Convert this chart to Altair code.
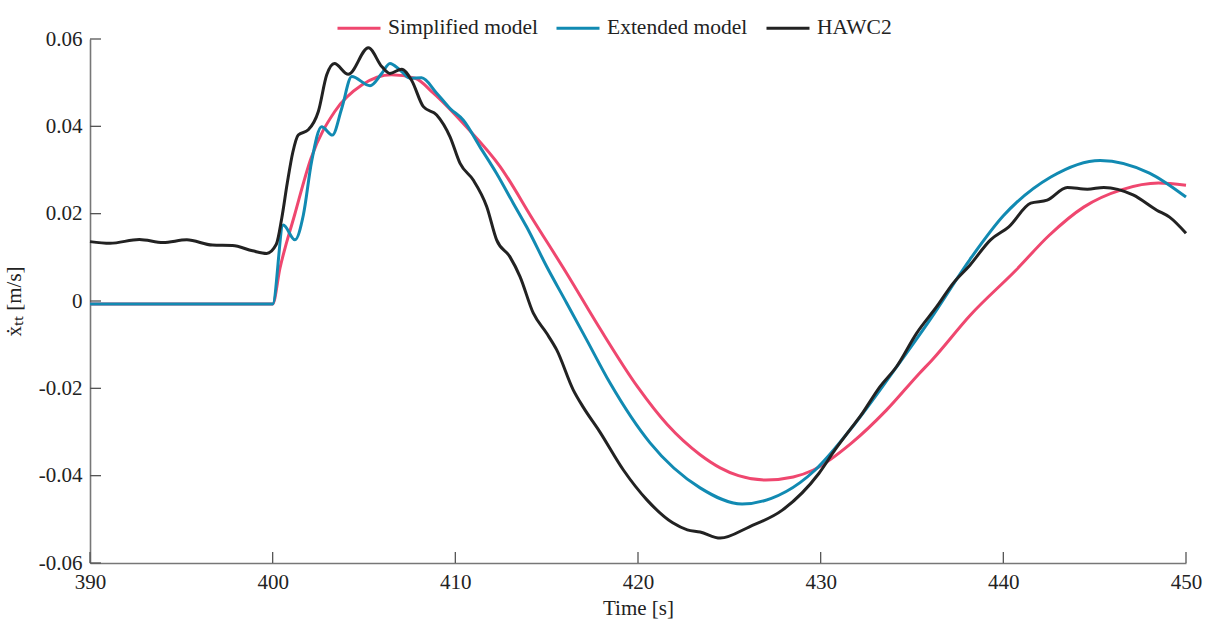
import altair as alt
import pandas as pd

# ---- data ----
simp_t = [390, 400.0, 400.4, 401.2, 402.1, 403.4, 404.9, 406.5, 407.8, 408.8, 410.6, 412.45,
          414.27, 416.1, 417.9, 420.0, 421.6, 423.4, 424.5, 425.5, 427.0, 428.5, 429.6, 431.7, 433.6, 435.4,
          436.1, 438.2, 440.7, 442.5, 444.4, 446.5, 448.5, 450]
simp_v = [-0.0007, -0.0007, 0.0075, 0.0197, 0.0327, 0.0434, 0.0495, 0.0518, 0.0510, 0.0476, 0.0399, 0.0308,
          0.0185, 0.0063, -0.0062, -0.0198, -0.0283, -0.0352, -0.0382, -0.0400, -0.0410, -0.0403, -0.0387, -0.0325, -0.0250, -0.0166,
          -0.0135, -0.0032, 0.0071, 0.0150, 0.0215, 0.0255, 0.0270, 0.0265]

ext_t = [390, 400.0, 400.58, 401.22, 401.68, 402.13, 402.68, 403.27, 403.78, 404.33, 405.33, 405.97,
         406.42, 406.97, 407.52, 408.15, 408.98, 409.71, 410.44, 411.35, 412.26, 413.17, 413.9, 415.0,
         416.1, 417.19, 418.47, 420.66, 423.4, 425.7, 427.3, 428.87, 429.7, 431.8, 434.0, 436.0, 438.17,
         440.0, 442.6, 445.3, 448.0, 450]
ext_v = [-0.0007, -0.0007, 0.0174, 0.0140, 0.0197, 0.0319, 0.0399, 0.0380, 0.0441, 0.0514, 0.0493, 0.0521,
         0.0544, 0.0529, 0.0510, 0.0511, 0.0476, 0.0441, 0.0414, 0.0353, 0.0292, 0.0224, 0.0170, 0.0079,
         -0.0005, -0.0089, -0.0188, -0.0325, -0.0428, -0.0465, -0.0452, -0.0416, -0.0387, -0.0285, -0.0160, -0.0042, 0.0095,
         0.0195, 0.0284, 0.0322, 0.0293, 0.0238]

hawc_t = [390, 391.1, 392.7, 394.0, 395.3, 396.7, 397.8, 398.9, 399.67, 400.2, 400.5, 400.8, 401.1,
          401.4, 401.95, 402.5, 402.96, 403.38, 404.14, 405.24, 405.97, 406.42, 407.06, 407.61, 408.25,
          408.98, 409.71, 410.26, 410.98, 411.72, 412.26, 412.99, 413.54, 414.27, 415.0, 415.55, 416.46,
          417.0, 417.9, 419.2, 420.5, 421.9, 422.7, 423.4, 424.5, 426.1, 427.9, 429.9, 430.8, 431.6,
          432.15, 433.25, 434.16, 435.25, 436.35, 437.26, 438.17, 439.3, 440.3, 441.5, 442.4, 443.5,
          444.6, 445.5, 447.1, 448.4, 449.1, 450]
hawc_v = [0.0136, 0.0132, 0.0141, 0.0134, 0.0140, 0.0128, 0.0127, 0.0115, 0.0109, 0.0130, 0.0190, 0.0270, 0.0340,
          0.0380, 0.0392, 0.0434, 0.0518, 0.0544, 0.0519, 0.0580, 0.0537, 0.0521, 0.0531, 0.0505, 0.0445,
          0.0426, 0.0376, 0.0315, 0.0277, 0.0216, 0.0140, 0.0101, 0.0056, -0.0028, -0.0074, -0.0112, -0.0204,
          -0.0243, -0.0299, -0.0387, -0.0456, -0.0508, -0.0524, -0.0529, -0.0543, -0.0517, -0.0479, -0.0395, -0.0340, -0.0295,
          -0.0265, -0.0196, -0.0150, -0.0074, -0.0013, 0.0041, 0.0082, 0.0140, 0.0170, 0.0224, 0.0231, 0.0260,
          0.0256, 0.0260, 0.0243, 0.0208, 0.0192, 0.0155]

series_names = ["Simplified model", "Extended model", "HAWC2"]
series_colors = ["#EF476F", "#118AB2", "#222222"]

x_ticks = [390, 400, 410, 420, 430, 440, 450]
y_ticks = [-0.06, -0.04, -0.02, 0.0, 0.02, 0.04, 0.06]

FONT = "Liberation Serif"
W, H = 1096, 524

def frame(t, v, name):
    return pd.DataFrame({"t": t, "v": v, "series": name})

xscale = alt.Scale(domain=[390, 450], nice=False, zero=False)
yscale = alt.Scale(domain=[-0.06, 0.06], nice=False, zero=False)
cscale = alt.Scale(domain=series_names, range=series_colors)

xaxis = alt.Axis(values=x_ticks, title="Time [s]", ticks=False, labelPadding=8,
                 titlePadding=5, format="d", labelFlush=False, grid=False)
yaxis = alt.Axis(values=y_ticks, title="ẋₜₜ [m/s]", ticks=False, labelPadding=8,
                 titlePadding=14, labelFlush=False, grid=False,
                 labelExpr="datum.value == 0 ? '0' : (datum.value < 0 ? '-' + format(-datum.value, '.2f') : format(datum.value, '.2f'))")

legend = alt.Legend(title=None, orient="none", direction="horizontal",
                    legendX=246, legendY=-34, columns=3,
                    symbolType="stroke", symbolSize=1849,
                    symbolStrokeWidth=3, labelFont=FONT,
                    labelFontSize=21.5, labelColor="#222",
                    labelOffset=6, columnPadding=12, padding=0)

def line(df):
    return alt.Chart(df).mark_line(strokeWidth=3, interpolate="monotone").encode(
        x=alt.X("t:Q", scale=xscale, axis=xaxis),
        y=alt.Y("v:Q", scale=yscale, axis=yaxis),
        color=alt.Color("series:N", scale=cscale, legend=legend),
    )

pink = line(frame(simp_t, simp_v, series_names[0]))
blue = line(frame(ext_t, ext_v, series_names[1]))
black = line(frame(hawc_t, hawc_v, series_names[2]))

ytick_rules = alt.Chart(pd.DataFrame({"v": y_ticks})).mark_rule(color="#555", strokeWidth=1.3).encode(
    y=alt.Y("v:Q", scale=yscale, axis=yaxis), x=alt.value(0), x2=alt.value(11))
xtick_rules = alt.Chart(pd.DataFrame({"t": x_ticks})).mark_rule(color="#555", strokeWidth=1.3).encode(
    x=alt.X("t:Q", scale=xscale, axis=xaxis), y=alt.value(H), y2=alt.value(H - 11))

chart = alt.layer(pink, blue, black, ytick_rules, xtick_rules).properties(
    width=W, height=H,
    background="white",
    autosize=alt.AutoSizeParams(type="none"),
    padding={"left": 90, "top": 39, "right": 27, "bottom": 58},
).configure_view(strokeWidth=0).configure_axis(
    grid=False, domainColor="#777", domainWidth=1.6,
    labelFont=FONT, labelFontSize=21, labelColor="#222",
    titleFont=FONT, titleFontSize=21, titleColor="#222", titleFontWeight="normal",
)

chart.save("out.html", embed_options={"renderer": "svg", "actions": False})
